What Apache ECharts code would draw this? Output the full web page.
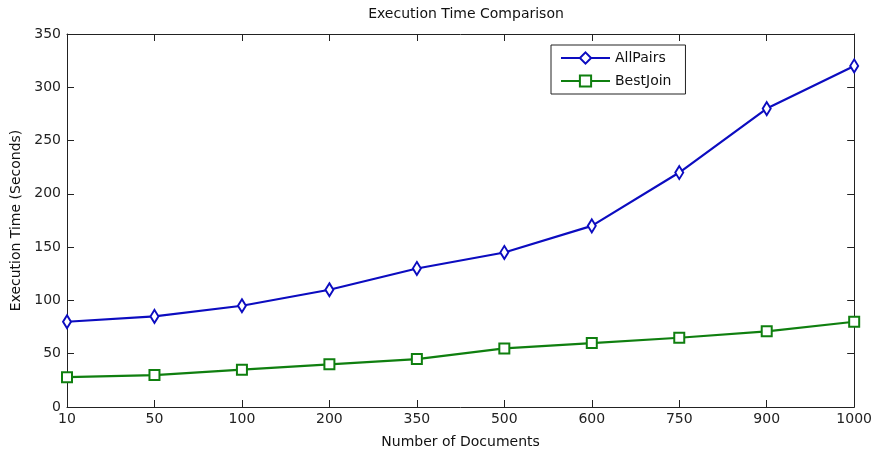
<!DOCTYPE html>
<html>
<head>
<meta charset="utf-8">
<script src="https://cdn.jsdelivr.net/npm/echarts@6/dist/echarts.min.js"></script>
<style>
  html, body { margin: 0; padding: 0; background: #fff; }
  #chart { width: 875px; height: 454px; }
</style>
</head>
<body>
<div id="chart"></div>
<script>
var documents = ['10', '50', '100', '200', '350', '500', '600', '750', '900', '1000'];
var allPairs = [80, 85, 95, 110, 130, 145, 170, 220, 280, 320];
var bestJoin = [28, 30, 35, 40, 45, 55, 60, 65, 71, 80];

var font = 'DejaVu Sans';
var blue = '#0c0cc0';
var green = '#0f7f0f';
var axisLine = { show: true, onZero: false, lineStyle: { color: '#222', width: 1 } };
var tickIn = { show: true, inside: true, length: 7, interval: 0, alignWithLabel: true, lineStyle: { color: '#222', width: 1 } };

var chart = echarts.init(document.getElementById('chart'));
chart.setOption({
    backgroundColor: '#fff',
    animation: false,
    title: {
        text: 'Execution Time Comparison',
        left: 461, top: 2, textAlign: 'center',
        textStyle: { fontFamily: font, fontSize: 14, fontWeight: 'normal', color: '#111' }
    },
    legend: {
        orient: 'vertical',
        left: 551, top: 45,
        padding: [6, 14, 6, 9],
        itemGap: 9,
        itemWidth: 49, itemHeight: 14,
        borderColor: '#222', borderWidth: 1,
        borderRadius: 0,
        backgroundColor: '#fff',
        textStyle: { fontFamily: font, fontSize: 14, color: '#111' },
        data: ['AllPairs', 'BestJoin']
    },
    grid: { left: 67, right: 17, top: 34, bottom: 45 },
    xAxis: [{
        type: 'category',
        data: documents,
        boundaryGap: false,
        position: 'bottom',
        name: 'Number of Documents',
        nameLocation: 'middle',
        nameGap: 28,
        nameTextStyle: { fontFamily: font, fontSize: 14, color: '#111' },
        axisLine: axisLine,
        axisTick: tickIn,
        axisLabel: { fontFamily: font, fontSize: 14, color: '#222', margin: 5, interval: 0 },
        splitLine: { show: false },
        z: 10
    }, {
        type: 'category',
        data: documents,
        boundaryGap: false,
        position: 'top',
        axisLine: axisLine,
        axisTick: tickIn,
        axisLabel: { show: false },
        splitLine: { show: false },
        z: 10
    }],
    yAxis: [{
        type: 'value',
        min: 0, max: 350, interval: 50,
        position: 'left',
        name: 'Execution Time (Seconds)',
        nameLocation: 'middle',
        nameGap: 41,
        nameTextStyle: { fontFamily: font, fontSize: 14, color: '#111' },
        axisLine: axisLine,
        axisTick: tickIn,
        axisLabel: { fontFamily: font, fontSize: 14, color: '#222', margin: 6 },
        splitLine: { show: false }
    }, {
        type: 'value',
        min: 0, max: 350, interval: 50,
        position: 'right',
        axisLine: axisLine,
        axisTick: tickIn,
        axisLabel: { show: false },
        splitLine: { show: false }
    }],
    series: [{
        name: 'AllPairs',
        type: 'line',
        data: allPairs,
        symbol: 'emptyDiamond',
        symbolSize: [8, 13],
        lineStyle: { width: 2.2, color: blue },
        itemStyle: { color: blue, borderWidth: 2 }
    }, {
        name: 'BestJoin',
        type: 'line',
        data: bestJoin,
        symbol: 'emptyRect',
        symbolSize: 10,
        lineStyle: { width: 2.2, color: green },
        itemStyle: { color: green, borderWidth: 2 }
    }]
});
</script>
</body>
</html>
